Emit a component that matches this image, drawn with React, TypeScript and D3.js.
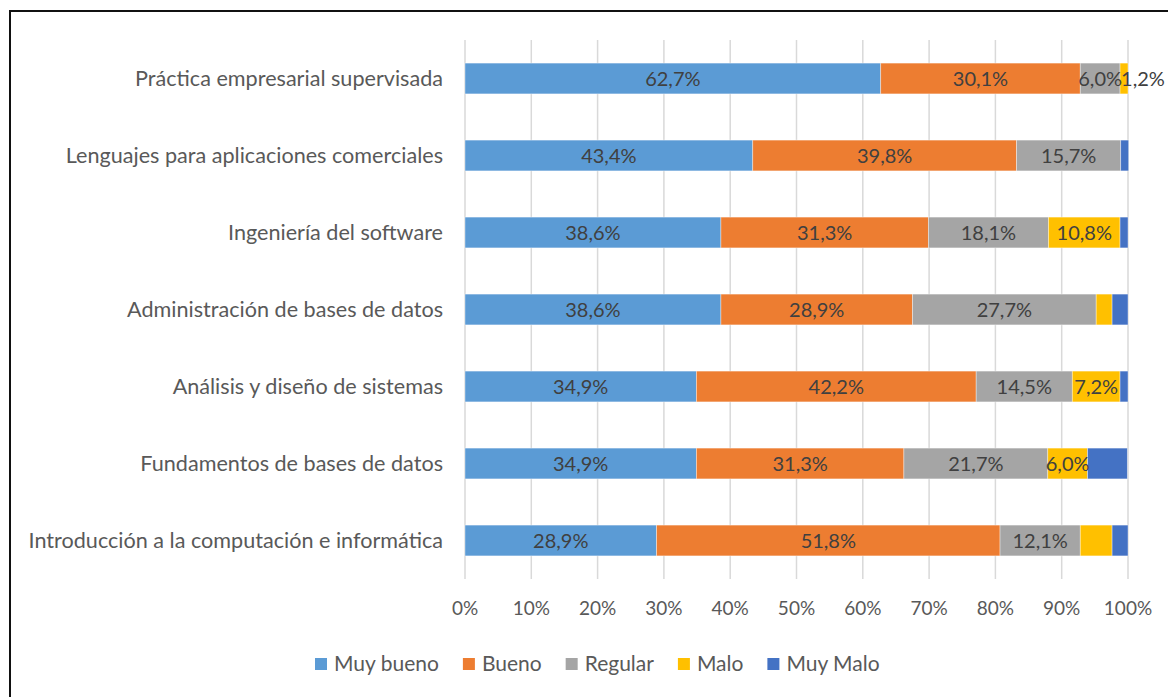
import React, { useEffect, useRef } from 'react';
import * as d3 from 'd3';

// categorías (de arriba hacia abajo)
const categories = [
  'Práctica empresarial supervisada',
  'Lenguajes para aplicaciones comerciales',
  'Ingeniería del software',
  'Administración de bases de datos',
  'Análisis y diseño de sistemas',
  'Fundamentos de bases de datos',
  'Introducción a la computación e informática',
];

const seriesNames = ['Muy bueno', 'Bueno', 'Regular', 'Malo', 'Muy Malo'];
const seriesColors = ['#5B9BD5', '#ED7D31', '#A5A5A5', '#FFC000', '#4472C4'];

const muyBueno = [62.7, 43.4, 38.6, 38.6, 34.9, 34.9, 28.9];
const bueno = [30.1, 39.8, 31.3, 28.9, 42.2, 31.3, 51.8];
const regular = [6.0, 15.7, 18.1, 27.7, 14.5, 21.7, 12.1];
const malo = [1.2, 0, 10.8, 2.4, 7.2, 6.0, 4.8];
const muyMalo = [0, 1.2, 1.2, 2.4, 1.2, 6.0, 2.4];

// etiquetas visibles por serie (las pequeñas se borraron en el original)
const showMuyBueno = [true, true, true, true, true, true, true];
const showBueno = [true, true, true, true, true, true, true];
const showRegular = [true, true, true, true, true, true, true];
const showMalo = [true, false, true, false, true, true, false];
const showMuyMalo = [false, false, false, false, false, false, false];

const xTicks = [0, 10, 20, 30, 40, 50, 60, 70, 80, 90, 100];

const W = 1168;
const H = 697;

const App = () => {
  const svgRef = useRef<SVGSVGElement | null>(null);

  useEffect(() => {
    const svg = d3.select(svgRef.current);
    svg.selectAll('*').remove();

    const font = 'Lato, "Open Sans", sans-serif';
    const values = [muyBueno, bueno, regular, malo, muyMalo];
    const shows = [showMuyBueno, showBueno, showRegular, showMalo, showMuyMalo];
    const locale = d3.formatLocale({ decimal: ',', thousands: '.', grouping: [3], currency: ['', '€'] });
    const fmt = locale.format('.1f');

    // marco
    svg.append('rect')
      .attr('x', 10).attr('y', 11)
      .attr('width', W + 20).attr('height', H + 20)
      .attr('fill', 'white')
      .attr('stroke', '#111').attr('stroke-width', 2);

    const x = d3.scaleLinear().domain([0, 100]).range([465, 1128]);
    const y = d3.scaleBand().domain(categories).range([40, 579]).paddingInner(0.6).paddingOuter(0.3);

    // cuadrícula
    svg.append('g')
      .selectAll('line')
      .data(xTicks)
      .join('line')
        .attr('x1', d => x(d)).attr('x2', d => x(d))
        .attr('y1', 40).attr('y2', 579)
        .attr('stroke', '#d9d9d9').attr('stroke-width', 1.5);

    // barras apiladas
    categories.forEach((cat, i) => {
      let acc = 0;
      const g = svg.append('g');
      values.forEach((arr, s) => {
        const v = arr[i];
        const x0 = acc;
        acc += v;
        if (v <= 0) return;
        g.append('rect')
          .attr('x', x(x0))
          .attr('y', y(cat)!)
          .attr('width', x(x0 + v) - x(x0))
          .attr('height', y.bandwidth())
          .attr('fill', seriesColors[s])
          .attr('stroke', 'rgba(255,255,255,0.5)')
          .attr('stroke-width', 0.75);
      });
      acc = 0;
      values.forEach((arr, s) => {
        const v = arr[i];
        const x0 = acc;
        acc += v;
        if (!shows[s][i]) return;
        // segmento muy estrecho: la etiqueta empieza en el segmento
        const narrow = v < 3;
        g.append('text')
          .attr('x', narrow ? x(x0) + 1 : (x(x0) + x(x0 + v)) / 2)
          .attr('y', y(cat)! + y.bandwidth() / 2)
          .attr('dy', '0.35em')
          .attr('text-anchor', narrow ? 'start' : 'middle')
          .style('font-family', font)
          .style('font-size', '20px')
          .style('fill', '#404040')
          .text(fmt(v) + '%');
      });
    });

    // etiquetas de categorías
    svg.append('g')
      .selectAll('text')
      .data(categories)
      .join('text')
        .attr('x', 443)
        .attr('y', d => y(d)! + y.bandwidth() / 2)
        .attr('dy', '0.35em')
        .attr('text-anchor', 'end')
        .style('font-family', font)
        .style('font-size', '21.6px')
        .style('fill', '#595959')
        .text(d => d);

    // eje x
    svg.append('g')
      .selectAll('text')
      .data(xTicks)
      .join('text')
        .attr('x', d => x(d))
        .attr('y', 608)
        .attr('dy', '0.35em')
        .attr('text-anchor', 'middle')
        .style('font-family', font)
        .style('font-size', '19px')
        .style('fill', '#595959')
        .text(d => d + '%');

    // leyenda: posiciones calculadas con el ancho de cada texto
    const legend = svg.append('g')
      .selectAll('g')
      .data(seriesNames)
      .join('g');
    legend.append('rect')
      .attr('x', 0).attr('y', -6)
      .attr('width', 12).attr('height', 12)
      .attr('fill', (d, i) => seriesColors[i]);
    legend.append('text')
      .attr('x', 19)
      .attr('dy', '0.35em')
      .style('font-family', font)
      .style('font-size', '21px')
      .style('fill', '#595959')
      .text(d => d);
    let lx = 315;
    legend.each(function () {
      const t = (this as SVGGElement).querySelector('text') as SVGTextElement;
      d3.select(this).attr('transform', `translate(${lx},664)`);
      lx += 19 + t.getComputedTextLength() + 24;
    });
  }, []);

  return (
    <svg
      ref={svgRef}
      width={W}
      height={H}
      style={{ position: 'absolute', left: 0, top: 0, display: 'block', background: 'white' }}
    />
  );
};

export default App;
